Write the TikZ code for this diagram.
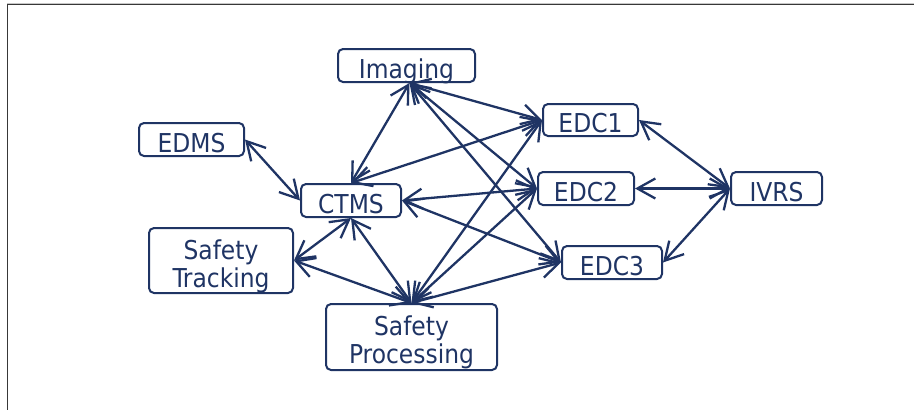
\documentclass[tikz,border=0pt]{standalone}
\usepackage{fontspec}
\newfontfamily\boxfont{DejaVu Sans Condensed}
\usetikzlibrary{arrows.meta}

\definecolor{navy}{RGB}{31,52,100}
\tikzset{
	sysbox/.style={draw=navy, line width=2pt, rounded corners=5pt, text=navy,
		font=\boxfont\fontsize{26}{28}\selectfont, align=center, inner sep=0pt,
		text height=25pt, text depth=0pt},
	twoline/.style={text height=53pt},
	link/.style={draw=navy, line width=2.3pt,
		{Straight Barb[length=18pt,width=20pt]}-{Straight Barb[length=18pt,width=20pt]}},
}

\begin{document}
\begin{tikzpicture}[x=1pt,y=-1pt]
		\useasboundingbox (0,0) rectangle (914,410);
		% 外框
		\draw[black!22, line width=1pt] (7,3.2) -- (914,3.2);
		\draw[black!78, line width=1.4pt] (7.5,410) -- (7.5,4.6) -- (914,4.6);
		% 方框
		\node[sysbox, minimum width=137pt, minimum height=33pt] (imaging) at (406.5,65.5) {Imaging};
		\node[sysbox, minimum width=105pt, minimum height=33pt] (edms) at (191.5,139.5) {EDMS};
		\node[sysbox, minimum width=100pt, minimum height=33pt] (ctms) at (351,200.5) {CTMS};
		\node[sysbox, twoline, minimum width=144pt, minimum height=65pt] (track) at (221,260.5) {Safety\\Tracking};
		\node[sysbox, twoline, minimum width=171pt, minimum height=66pt] (proc) at (411.5,337) {Safety\\Processing};
		\node[sysbox, minimum width=95pt, minimum height=32pt] (edc1) at (590.5,120) {EDC1};
		\node[sysbox, minimum width=96pt, minimum height=33pt] (edc2) at (586,188.5) {EDC2};
		\node[sysbox, minimum width=100pt, minimum height=33pt] (edc3) at (612,262.5) {EDC3};
		\node[sysbox, minimum width=91pt, minimum height=33pt] (ivrs) at (776.5,188.5) {IVRS};
		% 连线
		\draw[link] ([xshift=3pt]imaging.south) -- (ctms.north);
		\foreach \e in {edc1,edc2,edc3}
			\draw[link] ([xshift=3pt]imaging.south) -- (\e.west);
		\draw[link] (edms.east) -- (ctms.west);
		\draw[link] (ctms.north) -- (edc1.west);
		\draw[link] (ctms.east) -- (edc2.west);
		\draw[link] (ctms.east) -- (edc3.west);
		\draw[link] (ctms.south) -- (track.east);
		\draw[link] (ctms.south) -- (proc.north);
		\draw[link] (track.east) -- (proc.north);
		\foreach \e in {edc1,edc2,edc3}
			\draw[link] (proc.north) -- (\e.west);
		\foreach \e in {edc1,edc2,edc3}
			\draw[link] (\e.east) -- (ivrs.west);
	\end{tikzpicture}
\end{document}
